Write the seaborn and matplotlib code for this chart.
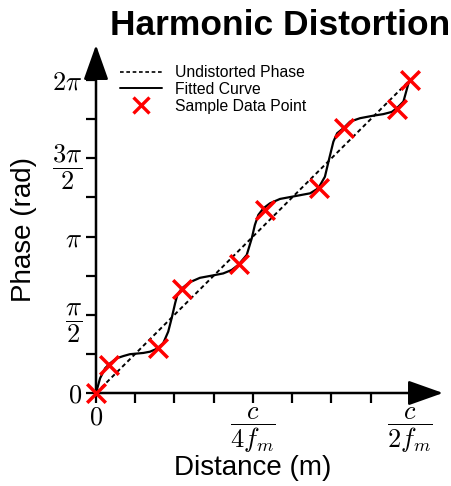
import numpy as np
import matplotlib
matplotlib.use("Agg")
import matplotlib.pyplot as plt
from matplotlib.lines import Line2D
import seaborn as sns

# distance as a fraction of c/(2 f_m), phase as a fraction of 2*pi
undistorted_x = [0.0, 1.0]
undistorted_phase = [0.0, 1.0]

curve_x = [0.0, 0.013, 0.029, 0.045, 0.066, 0.087, 0.108, 0.130, 0.151, 0.172,
           0.193, 0.214, 0.230, 0.241, 0.252, 0.259, 0.273, 0.299, 0.331, 0.374,
           0.405, 0.432, 0.453, 0.480, 0.496, 0.506, 0.517, 0.533, 0.554, 0.586,
           0.618, 0.650, 0.682, 0.708, 0.729, 0.743, 0.756, 0.768, 0.788, 0.809,
           0.841, 0.883, 0.915, 0.942, 0.958, 0.979, 0.995, 1.0]
curve_phase = [0.0, 0.047, 0.079, 0.095, 0.111, 0.118, 0.124, 0.126, 0.128, 0.132,
               0.141, 0.159, 0.196, 0.239, 0.287, 0.313, 0.334, 0.354, 0.368, 0.376,
               0.382, 0.393, 0.409, 0.441, 0.494, 0.537, 0.569, 0.590, 0.606, 0.620,
               0.626, 0.632, 0.638, 0.654, 0.691, 0.750, 0.803, 0.830, 0.846, 0.867,
               0.878, 0.886, 0.891, 0.898, 0.910, 0.931, 0.989, 1.0]

sample_x = [0.0, 0.042, 0.196, 0.275, 0.456, 0.538, 0.711, 0.790, 0.958, 1.0]
sample_phase = [0.0, 0.089, 0.143, 0.332, 0.411, 0.585, 0.654, 0.848, 0.908, 1.0]

x_ticks = [k / 8 for k in range(9)]
x_labels = [r"$0$", "", "", "", r"$\dfrac{c}{4f_m}$", "", "", "", r"$\dfrac{c}{2f_m}$"]
y_ticks = [k * np.pi / 4 for k in range(9)]
y_labels = [r"$0$", "", r"$\dfrac{\pi}{2}$", "", r"$\pi$", "", r"$\dfrac{3\pi}{2}$", "", r"$2\pi$"]

sns.set_style("white")
plt.rcParams["font.family"] = ["Liberation Sans", "DejaVu Sans"]
plt.rcParams["mathtext.fontset"] = "cm"
plt.rcParams["text.color"] = "black"
plt.rcParams["xtick.color"] = "black"
plt.rcParams["ytick.color"] = "black"

W, H = 452, 486
fig = plt.figure(figsize=(W / 100, H / 100), dpi=100)
# origin at pixel (96, 393), arrow tips at x=443 / y=45
ax = fig.add_axes([96 / W, 1 - 393 / H, (443 - 96) / W, (393 - 45) / H])
ax.set_xlim(0, (443 - 96) / 314)
ax.set_ylim(0, (393 - 45) / 313 * 2 * np.pi)

two_pi = 2 * np.pi
sns.lineplot(x=undistorted_x, y=np.array(undistorted_phase) * two_pi, ax=ax,
             color="black", lw=1.4, linestyle=(0, (2.2, 1.6)), sort=False, estimator=None)
sns.lineplot(x=curve_x, y=np.array(curve_phase) * two_pi, ax=ax,
             color="black", lw=1.6, sort=False, estimator=None)
sns.scatterplot(x=sample_x, y=np.array(sample_phase) * two_pi, ax=ax,
                marker="x", s=180, color="red", linewidth=2.5, zorder=5, clip_on=False)

for s in ax.spines.values():
    s.set_visible(False)

arrow = dict(arrowstyle="-|>,head_length=0.9,head_width=0.32", lw=1.8, color="black",
             shrinkA=0, shrinkB=0, mutation_scale=24)
ax.annotate("", xy=(1, 0), xytext=(0, 0), xycoords="axes fraction",
            arrowprops=arrow, annotation_clip=False, zorder=1)
ax.annotate("", xy=(0, 1), xytext=(0, 0), xycoords="axes fraction",
            arrowprops=arrow, annotation_clip=False, zorder=1)

ax.set_xticks(x_ticks)
ax.set_xticklabels(x_labels)
ax.set_yticks(y_ticks)
ax.set_yticklabels(y_labels)
ax.tick_params(axis="both", direction="out", length=7, width=1.6, labelsize=19,
               color="black", labelcolor="black", bottom=True, left=True)
ax.tick_params(axis="x", pad=2)
ax.tick_params(axis="y", pad=3)
ax.grid(False)

fig.text(24 / W, 1 - 230 / H, "Phase (rad)", rotation=90, ha="center", va="center",
         fontsize=20, color="black")
fig.text(253 / W, 1 - 468 / H, "Distance (m)", ha="center", va="center",
         fontsize=20, color="black")
fig.text(280 / W, 1 - 35 / H, "Harmonic Distortion", ha="center", va="baseline",
         fontsize=25.5, fontweight="bold", color="black")

handles = [
    Line2D([], [], color="black", lw=1.2, linestyle=(0, (2.2, 1.6))),
    Line2D([], [], color="black", lw=1.4),
    Line2D([], [], color="red", marker="x", ls="", ms=11, mew=2.4),
]
fig.legend(handles, ["Undistorted Phase", "Fitted Curve", "Sample Data Point"],
           loc="upper left", bbox_to_anchor=(120 / W, 1 - 65 / H), frameon=False,
           fontsize=11.3, handlelength=2.7, handletextpad=0.8, labelspacing=0.12,
           borderpad=0, borderaxespad=0)

fig.savefig("out.png", dpi=100)
